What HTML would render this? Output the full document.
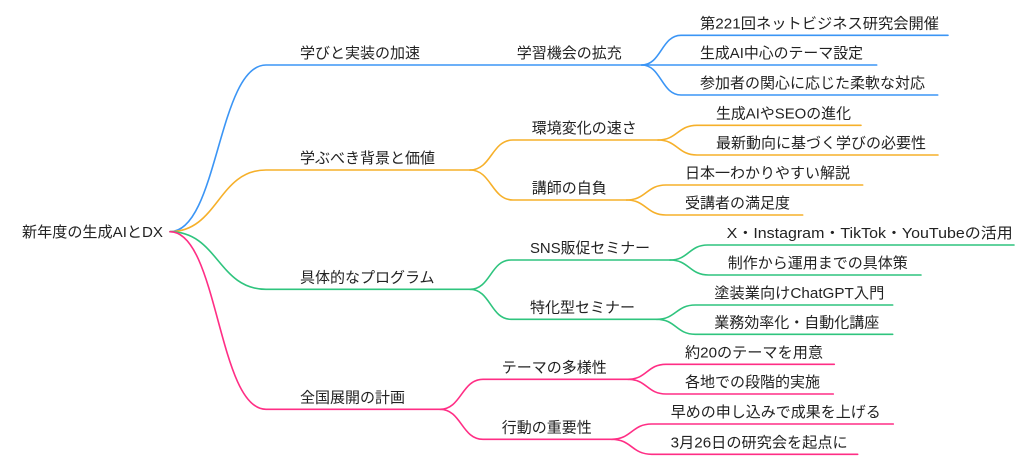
<!DOCTYPE html>
<html>
<head>
<meta charset="utf-8">
<style>
  html,body{margin:0;padding:0;background:#fff;}
  svg{display:block;}
  text{font-family:"Liberation Sans","Noto Sans CJK JP",sans-serif;font-size:15px;fill:#222;}
  path{fill:none;stroke-width:1.6;stroke-linecap:round;}
  .b{stroke:#3b95f5;} .o{stroke:#f6b02a;} .g{stroke:#2fc47e;} .p{stroke:#ff2e85;}
</style>
</head>
<body>
<svg width="1024" height="464" viewBox="0 0 1024 464" xmlns="http://www.w3.org/2000/svg">
  <!-- Root -->
  <text x="22" y="237" textLength="141" lengthAdjust="spacingAndGlyphs">新年度の生成AIとDX</text>

  <!-- Level 1 links -->
  <path class="b" d="M170,231.7 C218,231.7 218,65 266,65 L641.7,65"/>
  <path class="o" d="M170,231.7 C218,231.7 218,170 266,170 L470,170"/>
  <path class="g" d="M170,231.7 C218,231.7 218,289.3 266,289.3 L470,289.3"/>
  <path class="p" d="M170,231.7 C218,231.7 218,409.3 266,409.3 L440,409.3"/>

  <text x="300" y="58">学びと実装の加速</text>
  <text x="300" y="163">学ぶべき背景と価値</text>
  <text x="300" y="282.3">具体的なプログラム</text>
  <text x="300" y="402.3">全国展開の計画</text>

  <!-- Level 2 -->
  <text x="516.7" y="58">学習機会の拡充</text>

  <path class="o" d="M470,170 C491.5,170 491.5,140 513,140 L658,140"/>
  <path class="o" d="M470,170 C491.5,170 491.5,200 513,200 L626.7,200"/>
  <text x="531.7" y="133">環境変化の速さ</text>
  <text x="531.7" y="193">講師の自負</text>

  <path class="g" d="M470,289.3 C490.5,289.3 490.5,260 511,260 L670,260"/>
  <path class="g" d="M470,289.3 C490.5,289.3 490.5,319.3 511,319.3 L656.7,319.3"/>
  <text x="530" y="253" textLength="120" lengthAdjust="spacingAndGlyphs">SNS販促セミナー</text>
  <text x="530" y="312.3">特化型セミナー</text>

  <path class="p" d="M440,409.3 C461.5,409.3 461.5,379.3 483,379.3 L628,379.3"/>
  <path class="p" d="M440,409.3 C461.5,409.3 461.5,439.3 483,439.3 L611.7,439.3"/>
  <text x="501.7" y="372.3">テーマの多様性</text>
  <text x="501.7" y="432.3">行動の重要性</text>

  <!-- Level 3 blue -->
  <path class="b" d="M641.7,65 C661.3,65 661.3,35.3 681,35.3 L948,35.3"/>
  <path class="b" d="M641.7,65 L876.7,65"/>
  <path class="b" d="M641.7,65 C661.3,65 661.3,95 681,95 L937.7,95"/>
  <text x="700" y="28.5" textLength="239" lengthAdjust="spacingAndGlyphs">第221回ネットビジネス研究会開催</text>
  <text x="700" y="58" textLength="163" lengthAdjust="spacingAndGlyphs">生成AI中心のテーマ設定</text>
  <text x="700" y="88">参加者の関心に応じた柔軟な対応</text>

  <!-- Level 3 orange -->
  <path class="o" d="M658,140 C677.5,140 677.5,125.3 697,125.3 L861,125.3"/>
  <path class="o" d="M658,140 C677.5,140 677.5,155 697,155 L938,155"/>
  <text x="716" y="118.3" textLength="135" lengthAdjust="spacingAndGlyphs">生成AIやSEOの進化</text>
  <text x="716" y="148">最新動向に基づく学びの必要性</text>

  <path class="o" d="M626.7,200 C646.3,200 646.3,185 666,185 L862.7,185"/>
  <path class="o" d="M626.7,200 C646.3,200 646.3,215 666,215 L802.7,215"/>
  <text x="685" y="178">日本一わかりやすい解説</text>
  <text x="685" y="208">受講者の満足度</text>

  <!-- Level 3 green -->
  <path class="g" d="M670,260 C688.8,260 688.8,245 707.7,245 L1014,245"/>
  <path class="g" d="M670,260 C689.3,260 689.3,275 708.7,275 L921,275"/>
  <text x="726.7" y="238" textLength="286" lengthAdjust="spacingAndGlyphs">X・Instagram・TikTok・YouTubeの活用</text>
  <text x="727.7" y="268">制作から運用までの具体策</text>

  <path class="g" d="M656.7,319.3 C676,319.3 676,305 695.3,305 L892.7,305"/>
  <path class="g" d="M656.7,319.3 C676,319.3 676,334.3 695.3,334.3 L892.7,334.3"/>
  <text x="714.3" y="298" textLength="170" lengthAdjust="spacingAndGlyphs">塗装業向けChatGPT入門</text>
  <text x="714.3" y="327.3">業務効率化・自動化講座</text>

  <!-- Level 3 pink -->
  <path class="p" d="M628,379.3 C647,379.3 647,364.3 666,364.3 L834.3,364.3"/>
  <path class="p" d="M628,379.3 C647,379.3 647,394 666,394 L833.3,394"/>
  <text x="685" y="357.3" textLength="138" lengthAdjust="spacingAndGlyphs">約20のテーマを用意</text>
  <text x="685" y="387">各地での段階的実施</text>

  <path class="p" d="M611.7,439.3 C631.7,439.3 631.7,424 651.7,424 L893.3,424"/>
  <path class="p" d="M611.7,439.3 C631.7,439.3 631.7,454.3 651.7,454.3 L857.7,454.3"/>
  <text x="670.7" y="417">早めの申し込みで成果を上げる</text>
  <text x="670.7" y="447.3" textLength="177" lengthAdjust="spacingAndGlyphs">3月26日の研究会を起点に</text>
</svg>
</body>
</html>
